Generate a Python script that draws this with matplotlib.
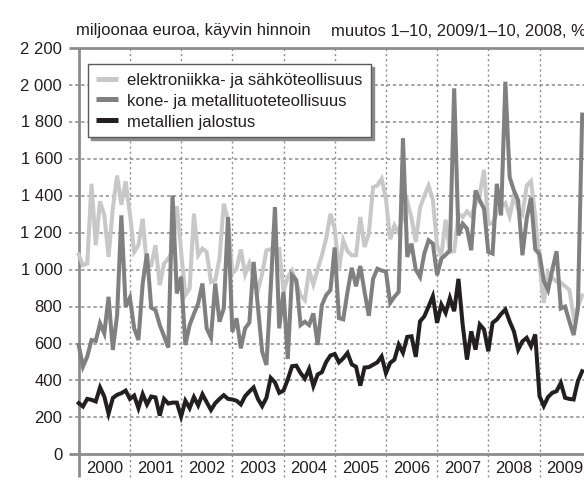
import matplotlib
matplotlib.use("Agg")
import matplotlib.pyplot as plt
from matplotlib.lines import Line2D

plt.rcParams['font.family'] = ['Liberation Sans', 'DejaVu Sans']
plt.rcParams['lines.scale_dashes'] = False

# ---------------- data ----------------
years = list(range(2000, 2010))
year_labels = [str(y) for y in years]
y_ticks = [0, 200, 400, 600, 800, 1000, 1200, 1400, 1600, 1800, 2000, 2200]
y_tick_labels = ["0", "200", "400", "600", "800", "1 000", "1 200", "1 400",
                 "1 600", "1 800", "2 000", "2 200"]
series_names = ["elektroniikka- ja sähköteollisuus",
                "kone- ja metallituoteteollisuus",
                "metallien jalostus"]
title_left = "miljoonaa euroa, käyvin hinnoin"
title_right = "muutos 1–10, 2009/1–10, 2008, %"

# monthly values, Jan 2000 -> Nov 2009 (million euro)
elektroniikka = [
    1082, 1024, 1033, 1465, 1132, 1370, 1294, 1069, 1334, 1510, 1352, 1478,
    1303, 1096, 1132, 1276, 1015, 1024, 1132, 916, 1033, 1060, 1100, 1344,
    1100, 862, 898, 1303, 1078, 1114, 1096, 934, 943, 1060, 1357, 1270,
    980, 1005, 1110, 975, 1035, 960, 888, 978, 1105, 1110, 1100, 1110,
    885, 960, 995, 930, 860, 835, 997, 920, 1000, 1078, 1168, 1303,
    1222, 997, 1159, 1100, 1078, 1078, 1285, 1123, 1195, 1447, 1456, 1492,
    1385, 1165, 1240, 1200, 1290, 1370, 1280, 1150, 1335, 1400, 1455, 1380,
    1130, 1075, 1270, 1095, 1100, 1300, 1285, 1315, 1290, 1355, 1410, 1540,
    1250, 1250, 1305, 1340, 1360, 1290, 1400, 1330, 1300, 1455, 1480, 1290,
    1030, 820, 985, 955, 935, 930, 910, 890, 745, 800, 860,
]
kone = [
    592, 475, 529, 619, 614, 709, 655, 853, 565, 754, 1294, 799,
    848, 682, 619, 925, 1087, 794, 781, 700, 640, 578, 1402, 871,
    961, 592, 700, 760, 817, 925, 682, 632, 925, 718, 790, 1285,
    664, 736, 574, 682, 713, 1042, 800, 556, 484, 900, 1339, 682,
    880, 516, 970, 943, 700, 718, 700, 763, 592, 808, 862, 889,
    1120, 738, 731, 880, 1010, 910, 1020, 880, 750, 950, 1005, 995,
    990, 820, 853, 880, 1712, 1069, 1141, 1000, 961, 1087, 1159, 1141,
    970, 1060, 1080, 1105, 1982, 1186, 1249, 1222, 1105, 1429, 1375, 1330,
    1096, 1087, 1465, 1294, 2018, 1501, 1429, 1375, 1078, 1276, 1390, 1110,
    1085, 940, 890, 1000, 1100, 790, 800, 720, 646, 790, 1840,
]
metallit = [
    277, 259, 300, 295, 286, 362, 313, 220, 305, 322, 331, 345,
    300, 318, 250, 326, 270, 313, 308, 210, 300, 275, 280, 280,
    205, 290, 250, 310, 265, 325, 282, 240, 277, 300, 320, 300,
    297, 290, 270, 315, 340, 362, 300, 261, 306, 414, 390, 333,
    345, 405, 477, 480, 440, 410, 462, 370, 432, 445, 500, 535,
    543, 498, 520, 549, 487, 474, 372, 470, 472, 485, 498, 530,
    440, 495, 513, 594, 550, 636, 639, 528, 720, 747, 800, 856,
    712, 811, 766, 847, 775, 950, 700, 513, 666, 567, 703, 676,
    558, 712, 730, 760, 784, 720, 666, 567, 612, 631, 585, 649,
    315, 262, 310, 333, 342, 387, 306, 300, 297, 396, 450,
]

# ---------------- layout ----------------
W, H = 584, 485
fig = plt.figure(figsize=(W / 100, H / 100), dpi=100)
fig.patch.set_facecolor("white")

x0_px, yr_px = 78.7, 51.2
y0_px, ytop_px = 455.3, 49.1
ax = fig.add_axes([x0_px / W, (H - y0_px) / H, 10 * yr_px / W, (y0_px - ytop_px) / H])
ax.set_xlim(2000, 2010)
ax.set_ylim(0, 2200)
ax.axis("off")

px_x = 1.0 / yr_px                  # one pixel in x data units
px_y = 2200.0 / (y0_px - ytop_px)   # one pixel in y data units

grid_col = "#8c8c8c"
axis_col = "#8c8c8c"
text_col = "#231f20"

x_left = 2000 - 10 * px_x
below = -23 * px_y

# horizontal dashed gridlines
for v in y_ticks[1:-1]:
    ax.plot([x_left, 2010], [v, v], color=grid_col, lw=1.1,
            dashes=(2.4, 2.0), clip_on=False, zorder=1)
# solid top and bottom lines
for v in (0, 2200):
    ax.plot([x_left, 2010], [v, v], color=axis_col, lw=2.0,
            solid_capstyle="butt", clip_on=False, zorder=2)
# vertical dotted year separators
for yr in years[1:]:
    ax.plot([yr, yr], [below, 2200], color=grid_col, lw=1.0,
            dashes=(1.5, 2.2), clip_on=False, zorder=1)
# left axis line
ax.plot([2000, 2000], [below, 2200], color=axis_col, lw=2.0,
        solid_capstyle="butt", clip_on=False, zorder=2)

# tick labels
for v, lab in zip(y_ticks, y_tick_labels):
    ax.text(2000 - 16.5 * px_x, v, lab, ha="right", va="center",
            fontsize=12, color=text_col, clip_on=False)
for yr, lab in zip(years, year_labels):
    ax.text(yr + 0.5, -13 * px_y, lab, ha="center", va="center",
            fontsize=12, color=text_col, clip_on=False)

# series
x = [2000 + i / 12 for i in range(len(kone))]
ax.plot(x, elektroniikka, color="#c8c8c8", lw=2.9, zorder=3,
        solid_joinstyle="miter", clip_on=False)
ax.plot(x, kone, color="#808080", lw=2.9, zorder=4,
        solid_joinstyle="miter", clip_on=False)
ax.plot(x, metallit, color="#231f20", lw=2.9, zorder=5,
        solid_joinstyle="miter", clip_on=False)

# titles
fig.text(76 / W, 1 - 31 / H, title_left, ha="left", va="center",
         fontsize=12, color=text_col)
fig.text(331 / W, 1 - 31 / H, title_right, ha="left", va="center",
         fontsize=12, color=text_col)

# legend
handles = [Line2D([], [], color=c, lw=3.6, solid_capstyle="butt")
           for c in ("#c8c8c8", "#808080", "#231f20")]
leg = fig.legend(handles, series_names, loc="upper left",
                 bbox_to_anchor=(88 / W, 1 - 65 / H), bbox_transform=fig.transFigure,
                 fontsize=12, frameon=True, fancybox=False,
                 shadow={"color": "#8c8c8c", "alpha": 1.0},
                 borderaxespad=0, borderpad=0.5, labelspacing=0.34,
                 handlelength=1.3, handletextpad=0.55)
leg.get_frame().set_edgecolor("#5a5a5a")
leg.get_frame().set_linewidth(1.0)
for t in leg.get_texts():
    t.set_color(text_col)
leg.set_zorder(10)

fig.savefig("out.png", dpi=100, facecolor="white")
